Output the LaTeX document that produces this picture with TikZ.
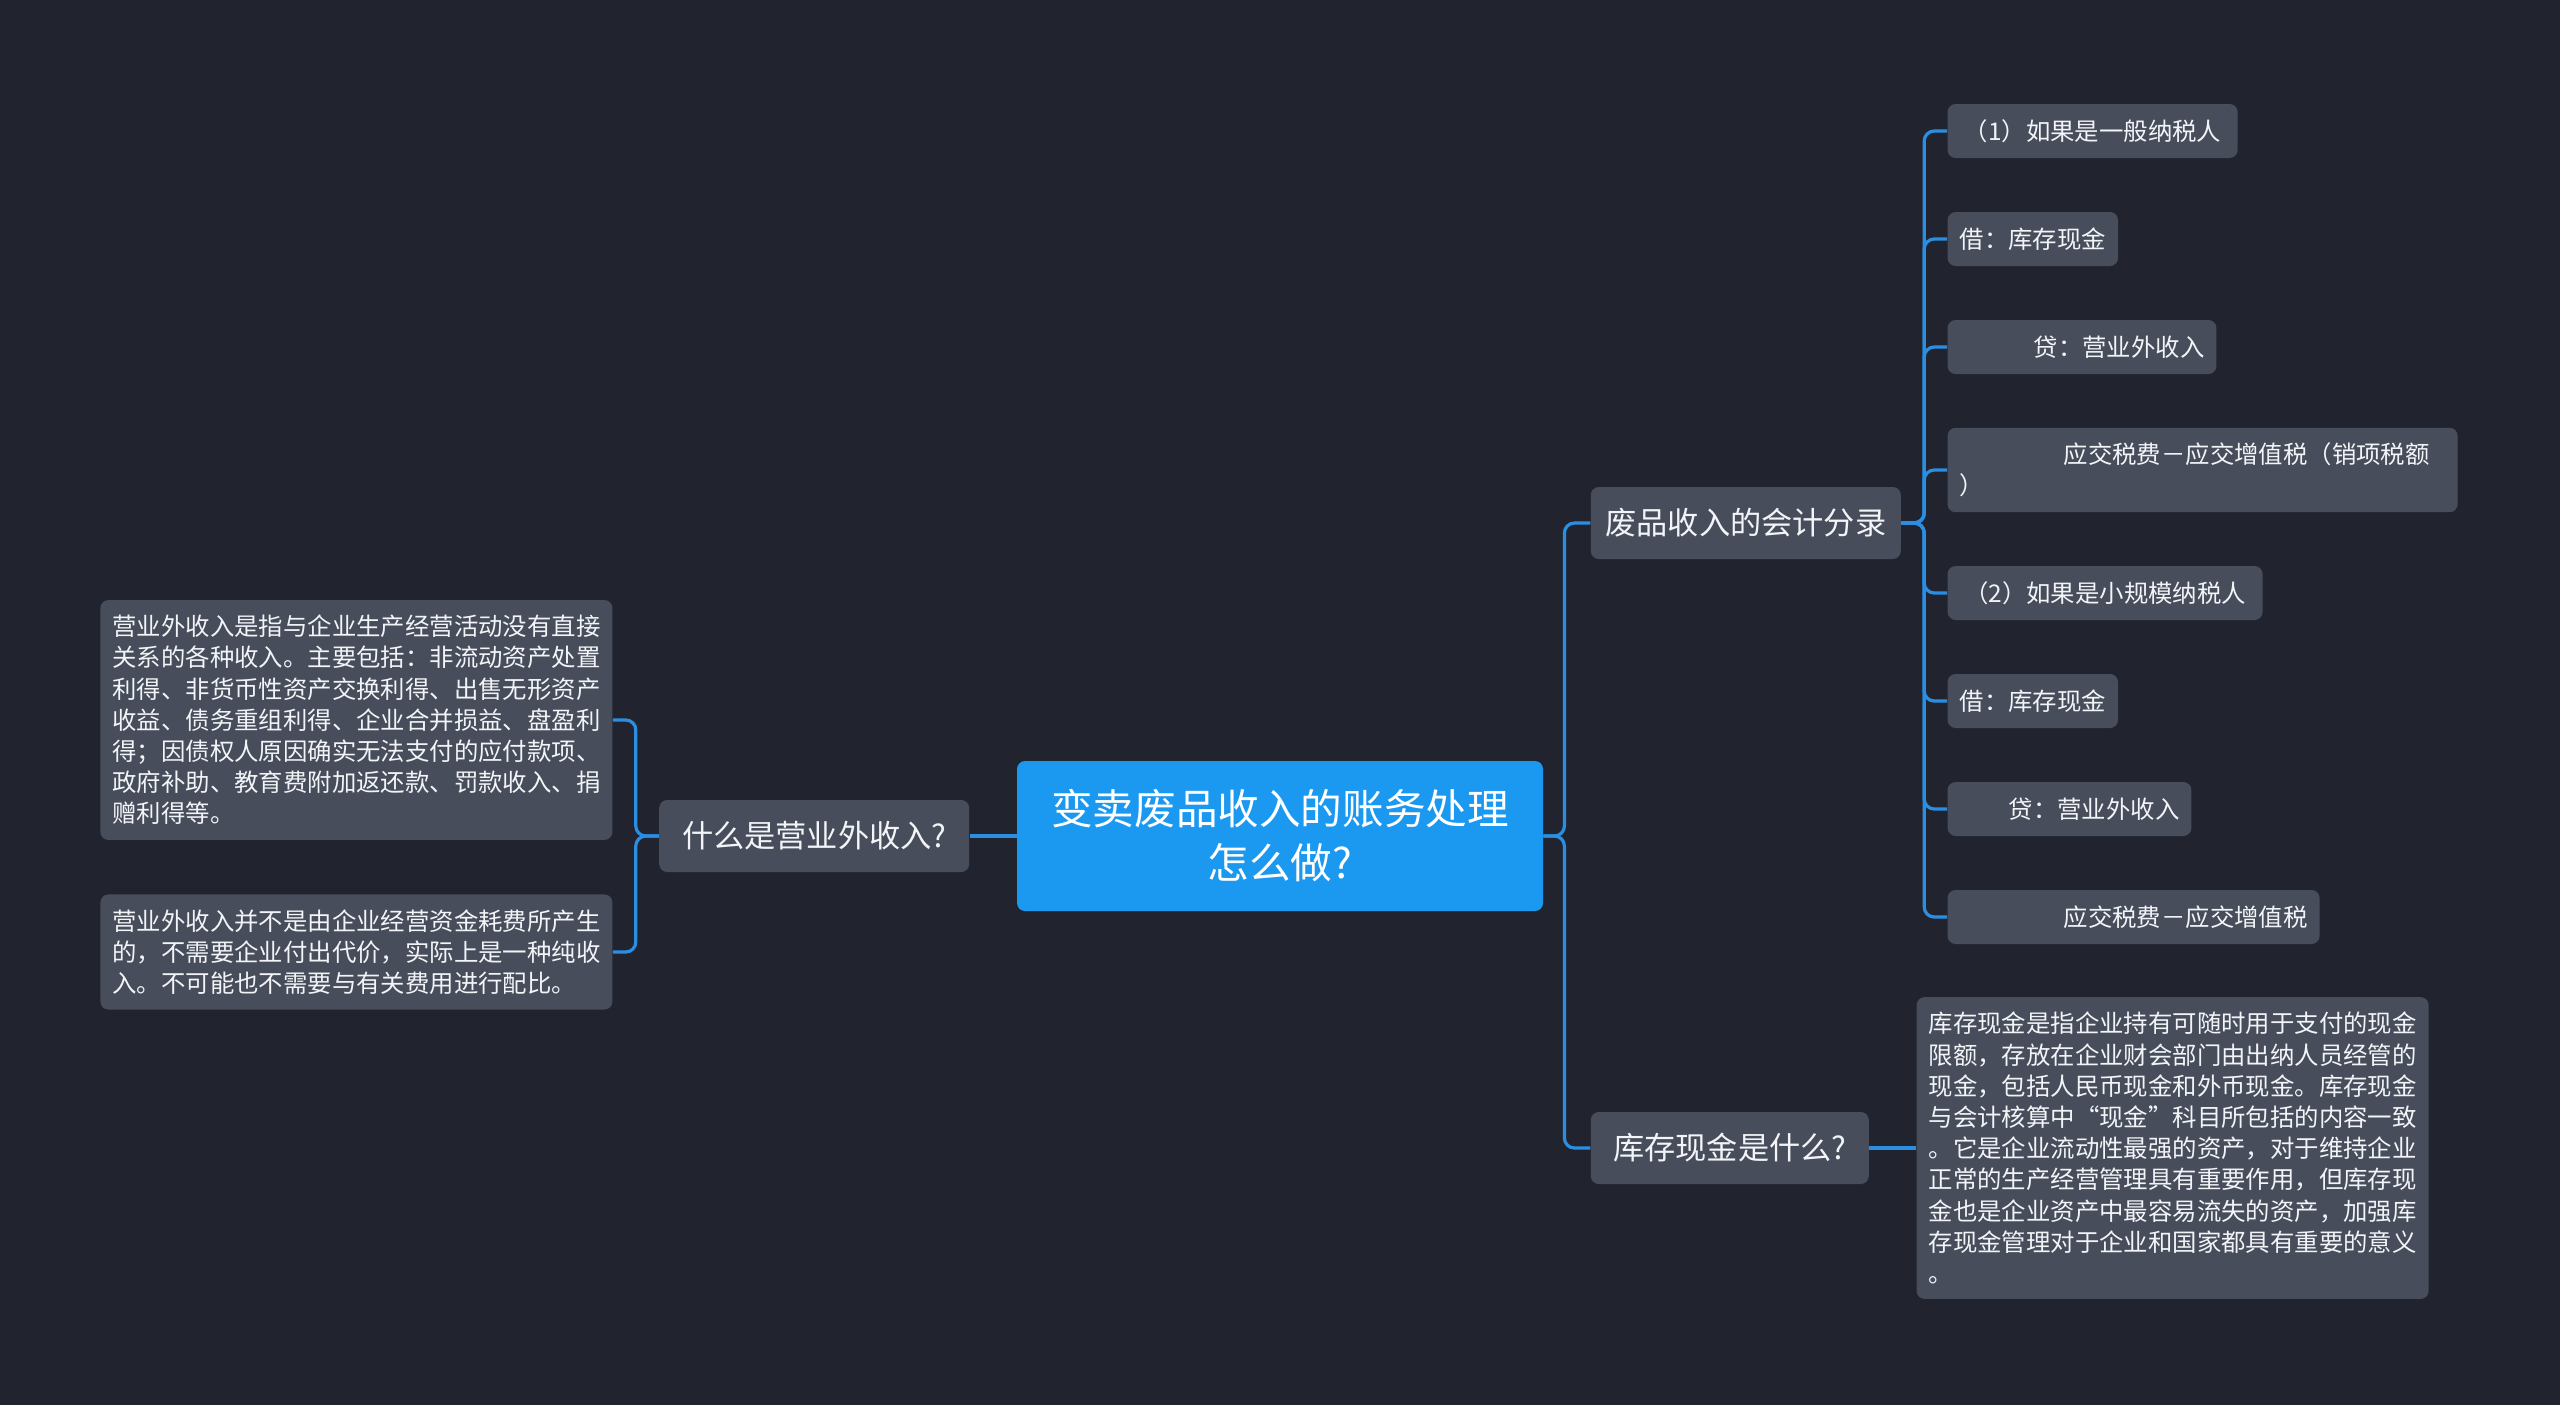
\documentclass[tikz,border=0pt]{standalone}
\usepackage{fontspec}
\setmainfont{Noto Sans CJK SC}
\usepackage{tikz}
\usetikzlibrary{positioning,shapes}
\definecolor{bgdark}{HTML}{21242F}
\definecolor{rootblue}{HTML}{1B98F0}
\definecolor{nodegray}{HTML}{474D5B}
\definecolor{linkblue}{HTML}{2A8EE2}
\definecolor{textwhite}{HTML}{F2F4F7}

\begin{document}
\begin{tikzpicture}[x=0.5pt, y=-0.5pt]
    \tikzstyle{root} = [rectangle, fill=rootblue, text=white, rounded corners=4pt, minimum width=263pt, minimum height=75pt, align=center, font=\fontsize{20.8}{27}\selectfont]
    \tikzstyle{topic} = [rectangle, fill=nodegray, text=textwhite, rounded corners=4pt, minimum height=36pt, font=\fontsize{15.6}{20}\selectfont]
    \tikzstyle{leaf} = [rectangle, fill=nodegray, text=textwhite, rounded corners=4pt, inner xsep=6pt, inner ysep=7.5pt, minimum height=27pt, align=left, font=\fontsize{12.2}{15.6}\selectfont]
    \tikzstyle{line} = [draw=linkblue, line width=1.6pt, rounded corners=5pt]

    % Background
    \fill [bgdark] (0,0) rectangle (2560,1405);

    % Root
    \node [root] (root) at (1280,836) {变卖废品收入的账务处理\\怎么做?};

    % What is non-operating income
    \node [topic, minimum width=155pt, left=23.5pt of root] (income) {什么是营业外收入?};

    % Income explanations
    \node [leaf, left=23pt of income, yshift=58pt] (l1) {营业外收入是指与企业生产经营活动没有直接\\关系的各种收入。主要包括：非流动资产处置\\利得、非货币性资产交换利得、出售无形资产\\收益、债务重组利得、企业合并损益、盘盈利\\得；因债权人原因确实无法支付的应付款项、\\政府补助、教育费附加返还款、罚款收入、捐\\赠利得等。};
    \node [leaf, left=23pt of income, yshift=-58pt] (l2) {营业外收入并不是由企业经营资金耗费所产生\\的，不需要企业付出代价，实际上是一种纯收\\入。不可能也不需要与有关费用进行配比。};

    % Accounting entries
    \node [topic, minimum width=155pt, right=23.5pt of root, yshift=156.5pt] (fp) {废品收入的会计分录};

    % General taxpayer
    \node [leaf, minimum width=145pt, right=23pt of fp, yshift=196pt] (c1) {（1）如果是一般纳税人};
    \node [leaf, right=23pt of fp, yshift=142pt] (c2) {借：库存现金};
    \node [leaf, right=23pt of fp, yshift=88pt] (c3) {\hspace*{37pt}贷：营业外收入};
    \node [leaf, text width=243pt, right=23pt of fp, yshift=26.5pt] (c4) {\hspace*{52pt}应交税费－应交增值税（销项税额\\）};

    % Small-scale taxpayer
    \node [leaf, minimum width=157.5pt, right=23pt of fp, yshift=-35pt] (c5) {（2）如果是小规模纳税人};
    \node [leaf, right=23pt of fp, yshift=-89pt] (c6) {借：库存现金};
    \node [leaf, right=23pt of fp, yshift=-143pt] (c7) {\hspace*{24.5pt}贷：营业外收入};
    \node [leaf, right=23pt of fp, yshift=-197pt] (c8) {\hspace*{52pt}应交税费－应交增值税};

    % What is cash on hand
    \node [topic, minimum width=139pt, right=23.5pt of root, yshift=-156pt] (cash) {库存现金是什么?};
    \node [leaf, right=23.5pt of cash] (cashdesc) {库存现金是指企业持有可随时用于支付的现金\\限额，存放在企业财会部门由出纳人员经管的\\现金，包括人民币现金和外币现金。库存现金\\与会计核算中“现金”科目所包括的内容一致\\。它是企业流动性最强的资产，对于维持企业\\正常的生产经营管理具有重要作用，但库存现\\金也是企业资产中最容易流失的资产，加强库\\存现金管理对于企业和国家都具有重要的意义\\。};

    % Lines
    \path [line] (root.west) -- (income.east);
    \path [line] (income.west) -- ++(-23,0) |- (l1.east);
    \path [line] (income.west) -- ++(-23,0) |- (l2.east);
    \path [line] (root.east) -- ++(21,0) |- (fp.west);
    \path [line] (root.east) -- ++(21,0) |- (cash.west);
    \path [line] (fp.east) -- ++(23,0) |- (c1.west);
    \path [line] (fp.east) -- ++(23,0) |- (c2.west);
    \path [line] (fp.east) -- ++(23,0) |- (c3.west);
    \path [line] (fp.east) -- ++(23,0) |- (c4.west);
    \path [line] (fp.east) -- ++(23,0) |- (c5.west);
    \path [line] (fp.east) -- ++(23,0) |- (c6.west);
    \path [line] (fp.east) -- ++(23,0) |- (c7.west);
    \path [line] (fp.east) -- ++(23,0) |- (c8.west);
    \path [line] (cash.east) -- (cashdesc.west);

\end{tikzpicture}
\end{document}
